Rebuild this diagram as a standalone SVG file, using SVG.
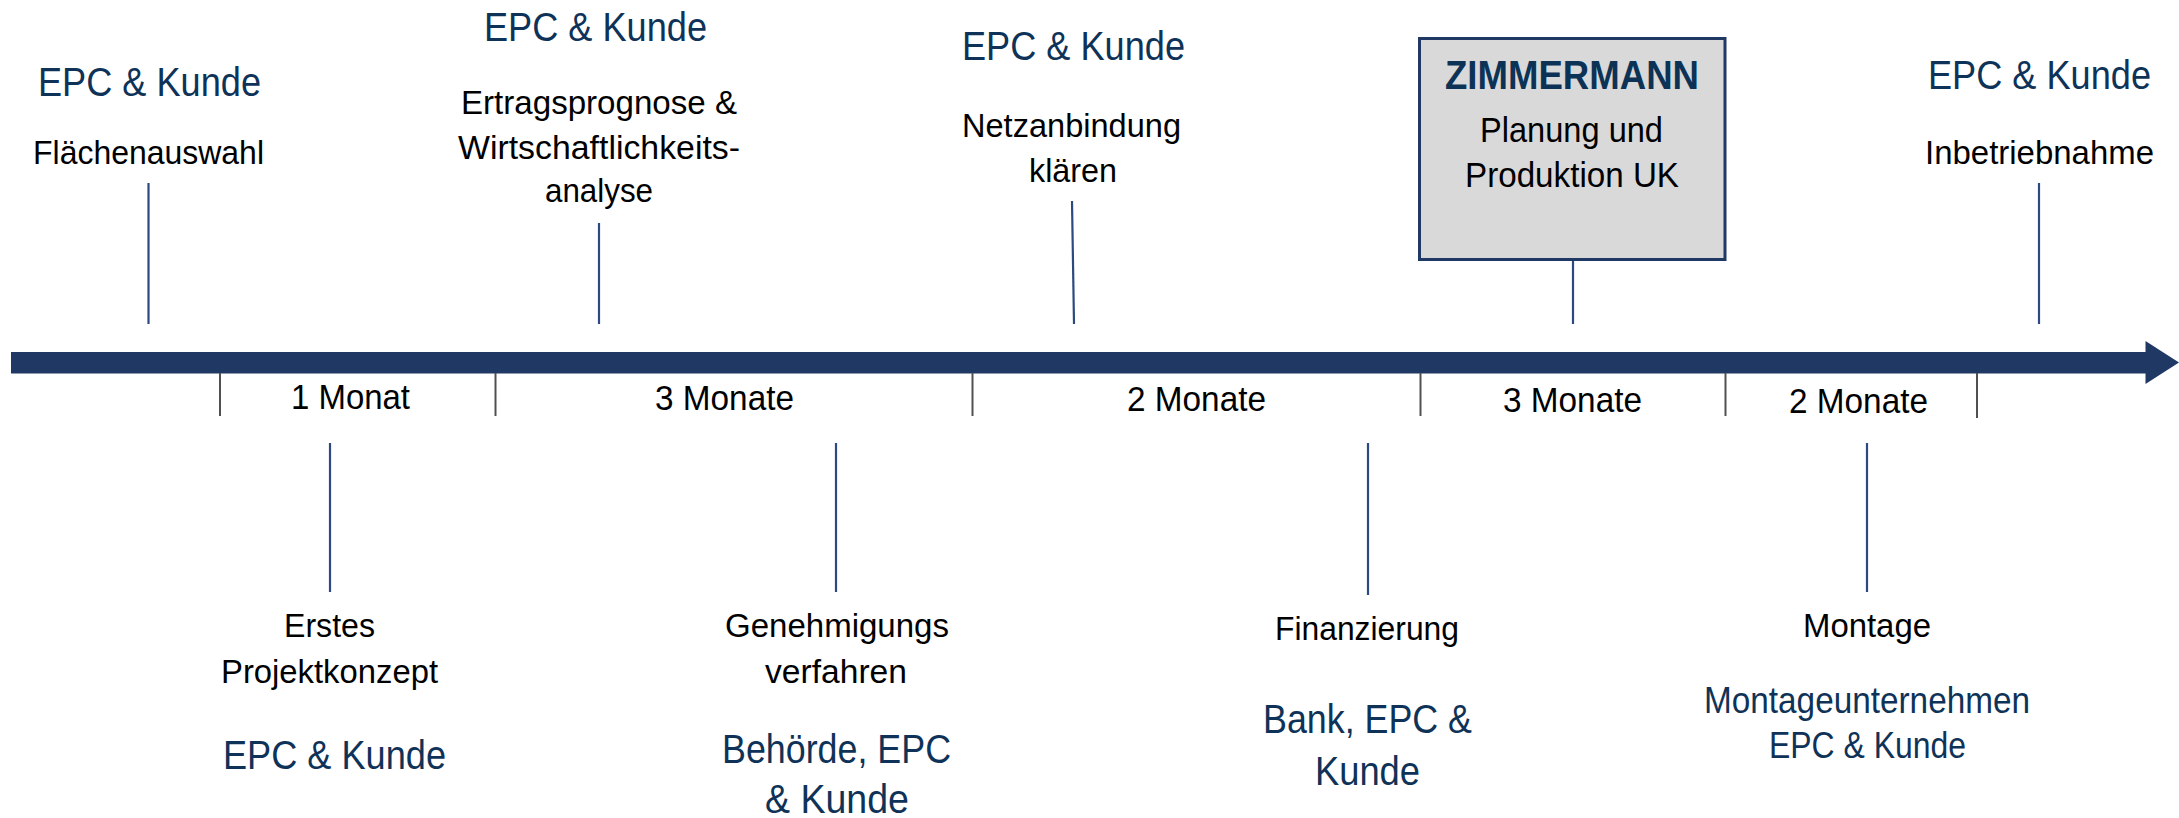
<svg xmlns="http://www.w3.org/2000/svg" width="2179" height="818" viewBox="0 0 2179 818">
  <style>
    text { font-family: "Liberation Sans", Arial, sans-serif; }
    .lbl { font-size: 34px; fill: #000000; }
    .dur { font-size: 35px; fill: #000000; }
    .who { font-size: 40px; fill: #0f3358; }
    .who-s { font-size: 36px; fill: #0f3358; }
    .brand { font-size: 40px; font-weight: bold; fill: #0c3356; }
    .stem { stroke: #2c4a80; stroke-width: 2.2; fill: none; }
    .tick { stroke: #505050; stroke-width: 2; fill: none; }
  </style>

  <!-- main time axis -->
  <g id="timeline">
    <rect x="11" y="352" width="2136" height="21.5" fill="#203864"/>
    <polygon points="2145.5,341 2179,362.5 2145.5,384" fill="#203864"/>
  </g>

  <!-- phase separators under the axis -->
  <g id="ticks">
    <line class="tick" x1="220" y1="373" x2="220" y2="416"/>
    <line class="tick" x1="495.5" y1="373" x2="495.5" y2="416"/>
    <line class="tick" x1="972.5" y1="373" x2="972.5" y2="416"/>
    <line class="tick" x1="1420.5" y1="373" x2="1420.5" y2="416"/>
    <line class="tick" x1="1725.5" y1="373" x2="1725.5" y2="416"/>
    <line class="tick" x1="1977" y1="373" x2="1977" y2="418"/>
  </g>

  <!-- phase durations -->
  <g id="durations">
    <text class="dur" x="291" y="409" textLength="119" lengthAdjust="spacingAndGlyphs">1 Monat</text>
    <text class="dur" x="655" y="410" textLength="139" lengthAdjust="spacingAndGlyphs">3 Monate</text>
    <text class="dur" x="1127" y="411" textLength="139" lengthAdjust="spacingAndGlyphs">2 Monate</text>
    <text class="dur" x="1503" y="412" textLength="139" lengthAdjust="spacingAndGlyphs">3 Monate</text>
    <text class="dur" x="1789" y="413" textLength="139" lengthAdjust="spacingAndGlyphs">2 Monate</text>
  </g>

  <!-- connectors from milestones to the axis -->
  <g id="connectors">
    <line class="stem" x1="148.5" y1="183" x2="148.5" y2="324"/>
    <line class="stem" x1="599" y1="223" x2="599" y2="324"/>
    <line class="stem" x1="1072" y1="201" x2="1074" y2="324"/>
    <line class="stem" x1="1573" y1="261" x2="1573" y2="324"/>
    <line class="stem" x1="2039" y1="183" x2="2039" y2="324"/>
    <line class="stem" x1="330" y1="443" x2="330" y2="592"/>
    <line class="stem" x1="836" y1="443" x2="836" y2="592"/>
    <line class="stem" x1="1368" y1="443" x2="1368" y2="595"/>
    <line class="stem" x1="1867" y1="443" x2="1867" y2="592"/>
  </g>

  <!-- milestones above the axis -->
  <g id="flaechenauswahl">
    <text class="who" x="38" y="96" textLength="223" lengthAdjust="spacingAndGlyphs">EPC &amp; Kunde</text>
    <text class="lbl" x="33" y="164" textLength="231" lengthAdjust="spacingAndGlyphs">Flächenauswahl</text>
  </g>

  <g id="ertragsprognose">
    <text class="who" x="484" y="41" textLength="223" lengthAdjust="spacingAndGlyphs">EPC &amp; Kunde</text>
    <text class="lbl" x="461" y="114" textLength="276" lengthAdjust="spacingAndGlyphs">Ertragsprognose &amp;</text>
    <text class="lbl" x="458" y="159" textLength="282" lengthAdjust="spacingAndGlyphs">Wirtschaftlichkeits-</text>
    <text class="lbl" x="545" y="202" textLength="108" lengthAdjust="spacingAndGlyphs">analyse</text>
  </g>

  <g id="netzanbindung">
    <text class="who" x="962" y="60" textLength="223" lengthAdjust="spacingAndGlyphs">EPC &amp; Kunde</text>
    <text class="lbl" x="962" y="137" textLength="219" lengthAdjust="spacingAndGlyphs">Netzanbindung</text>
    <text class="lbl" x="1029" y="182" textLength="88" lengthAdjust="spacingAndGlyphs">klären</text>
  </g>

  <g id="zimmermann">
    <rect x="1419.5" y="38.5" width="305.5" height="221" fill="#d9d9d9" stroke="#1f3864" stroke-width="3"/>
    <text class="brand" x="1445" y="89" textLength="254" lengthAdjust="spacingAndGlyphs">ZIMMERMANN</text>
    <text class="dur" x="1480" y="142" textLength="183" lengthAdjust="spacingAndGlyphs">Planung und</text>
    <text class="dur" x="1465" y="187" textLength="214" lengthAdjust="spacingAndGlyphs">Produktion UK</text>
  </g>

  <g id="inbetriebnahme">
    <text class="who" x="1928" y="89" textLength="223" lengthAdjust="spacingAndGlyphs">EPC &amp; Kunde</text>
    <text class="lbl" x="1925" y="164" textLength="229" lengthAdjust="spacingAndGlyphs">Inbetriebnahme</text>
  </g>

  <!-- milestones below the axis -->
  <g id="projektkonzept">
    <text class="lbl" x="284" y="637" textLength="91" lengthAdjust="spacingAndGlyphs">Erstes</text>
    <text class="lbl" x="221" y="683" textLength="217" lengthAdjust="spacingAndGlyphs">Projektkonzept</text>
    <text class="who" x="223" y="769" textLength="223" lengthAdjust="spacingAndGlyphs">EPC &amp; Kunde</text>
  </g>

  <g id="genehmigung">
    <text class="lbl" x="725" y="637" textLength="224" lengthAdjust="spacingAndGlyphs">Genehmigungs</text>
    <text class="lbl" x="765" y="683" textLength="142" lengthAdjust="spacingAndGlyphs">verfahren</text>
    <text class="who" x="722" y="763" textLength="229" lengthAdjust="spacingAndGlyphs">Behörde, EPC</text>
    <text class="who" x="765" y="813" textLength="144" lengthAdjust="spacingAndGlyphs">&amp; Kunde</text>
  </g>

  <g id="finanzierung">
    <text class="lbl" x="1275" y="640" textLength="184" lengthAdjust="spacingAndGlyphs">Finanzierung</text>
    <text class="who" x="1263" y="733" textLength="209" lengthAdjust="spacingAndGlyphs">Bank, EPC &amp;</text>
    <text class="who" x="1315" y="785" textLength="105" lengthAdjust="spacingAndGlyphs">Kunde</text>
  </g>

  <g id="montage">
    <text class="lbl" x="1803" y="637" textLength="128" lengthAdjust="spacingAndGlyphs">Montage</text>
    <text class="who-s" x="1704" y="713" textLength="326" lengthAdjust="spacingAndGlyphs">Montageunternehmen</text>
    <text class="who-s" x="1769" y="758" textLength="197" lengthAdjust="spacingAndGlyphs">EPC &amp; Kunde</text>
  </g>
</svg>
